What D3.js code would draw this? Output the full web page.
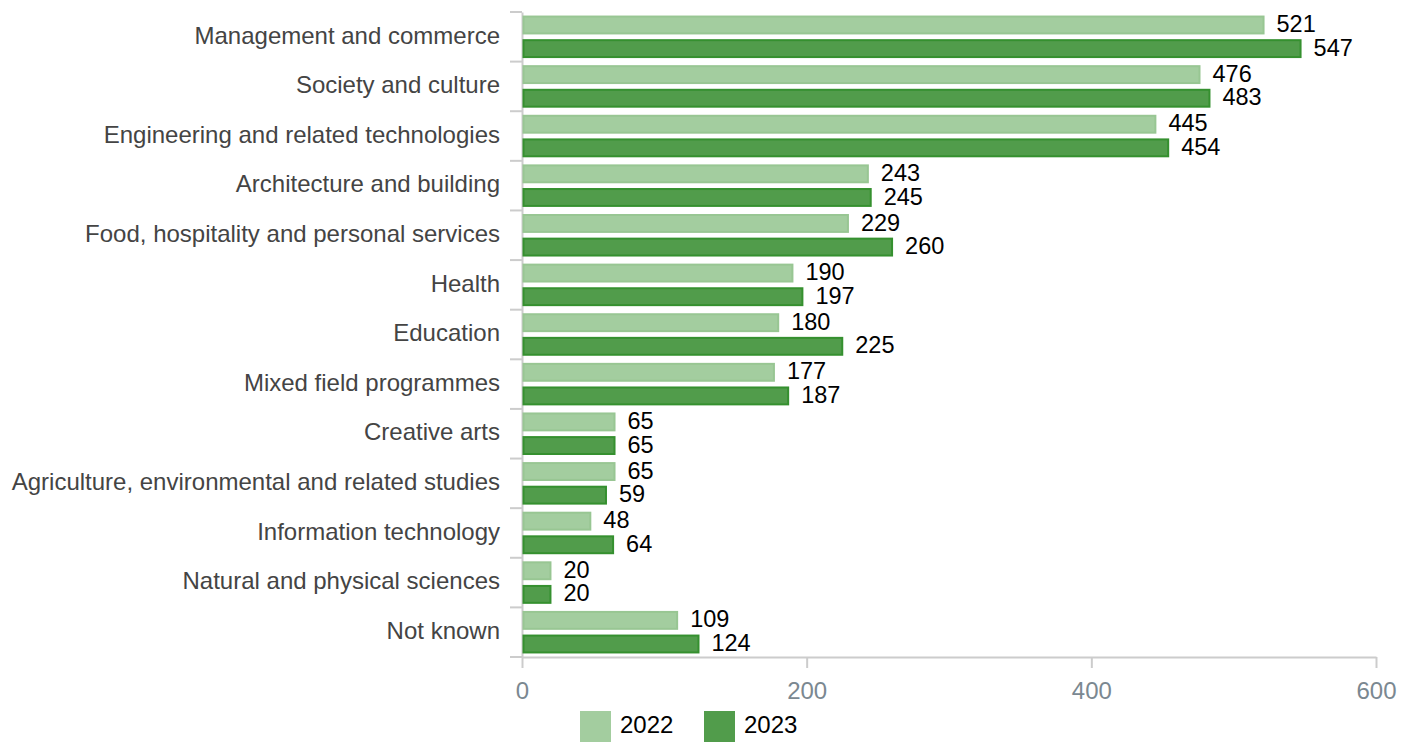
<!DOCTYPE html>
<html><head><meta charset="utf-8">
<script src="https://cdn.jsdelivr.net/npm/d3@7"></script>
<style>body{margin:0;background:#fff}svg{display:block;font-family:"Liberation Sans",Arial,sans-serif}</style>
</head><body><svg id="c" width="1412" height="742"></svg>
<script>
const categories = ["Management and commerce","Society and culture","Engineering and related technologies","Architecture and building","Food, hospitality and personal services","Health","Education","Mixed field programmes","Creative arts","Agriculture, environmental and related studies","Information technology","Natural and physical sciences","Not known"];
const values2022 = [521,476,445,243,229,190,180,177,65,65,48,20,109];
const values2023 = [547,483,454,245,260,197,225,187,65,59,64,20,124];
const seriesNames = ["2022","2023"];
const xTicks = [0,200,400,600];

const svg = d3.select("#c");
const m = {left:522, right:1376, top:12, bottom:657};
const x = d3.scaleLinear().domain([0,600]).range([m.left,m.right]);
const y = d3.scaleBand().domain(categories).range([m.top,m.bottom]).paddingInner(0).paddingOuter(0);
const inner = d3.scaleBand().domain(seriesNames).range([0,y.bandwidth()]).paddingInner(0.2).paddingOuter(0.15);
const fills = {"2022":"#a3cd9f","2023":"#519c4b"};
const strokes = {"2022":"#98c693","2023":"#35902f"};
const data = categories.map((c,i)=>({c, v:{"2022":values2022[i],"2023":values2023[i]}}));

// y axis
const gy = svg.append("g").attr("transform",`translate(${m.left},0)`)
  .call(d3.axisLeft(y).tickSize(0).tickPadding(22));
gy.select(".domain").attr("stroke","#ccc").attr("stroke-width",2);
gy.selectAll("text").attr("font-size",24).attr("fill","#444").attr("dy","0.28em").attr("font-family","Liberation Sans, Arial, sans-serif");
// boundary ticks
const bounds = categories.map(c=>y(c)).concat([m.bottom]);
svg.append("g").selectAll("line").data(bounds).join("line")
  .attr("x1",m.left-12).attr("x2",m.left).attr("y1",d=>d).attr("y2",d=>d)
  .attr("stroke","#ccc").attr("stroke-width",2);

// x axis
const gx = svg.append("g").attr("transform",`translate(0,${m.bottom})`)
  .call(d3.axisBottom(x).tickValues(xTicks).tickSize(11).tickPadding(14).tickSizeOuter(0));
gx.select(".domain").attr("stroke","#ccc").attr("stroke-width",2);
gx.selectAll(".tick line").attr("stroke","#ccc").attr("stroke-width",2);
gx.selectAll("text").attr("font-size",24).attr("fill","#7b8891").attr("font-family","Liberation Sans, Arial, sans-serif");

// bars
const g = svg.append("g");
seriesNames.forEach(s=>{
  g.selectAll("rect.s"+s).data(data).join("rect")
    .attr("x",x(0)+1.5).attr("y",d=>y(d.c)+inner(s)+1)
    .attr("width",d=>x(d.v[s])-x(0)-1.5).attr("height",inner.bandwidth()-2)
    .attr("fill",fills[s]).attr("stroke",strokes[s]).attr("stroke-width",2);
  g.selectAll("text.s"+s).data(data).join("text")
    .attr("x",d=>x(d.v[s])+13).attr("y",d=>y(d.c)+inner(s)+inner.bandwidth()/2)
    .attr("dy","0.3em").attr("font-size",23.5).attr("fill","#000").text(d=>d.v[s]);
});

// legend
const lg = svg.append("g");
const lx = [580,704];
seriesNames.forEach((s,i)=>{
  lg.append("rect").attr("x",lx[i]).attr("y",711).attr("width",31).attr("height",31).attr("fill",fills[s]);
  lg.append("text").attr("x",lx[i]+40).attr("y",725).attr("dy","0.35em").attr("font-size",24).attr("fill","#000").text(s);
});
</script></body></html>
